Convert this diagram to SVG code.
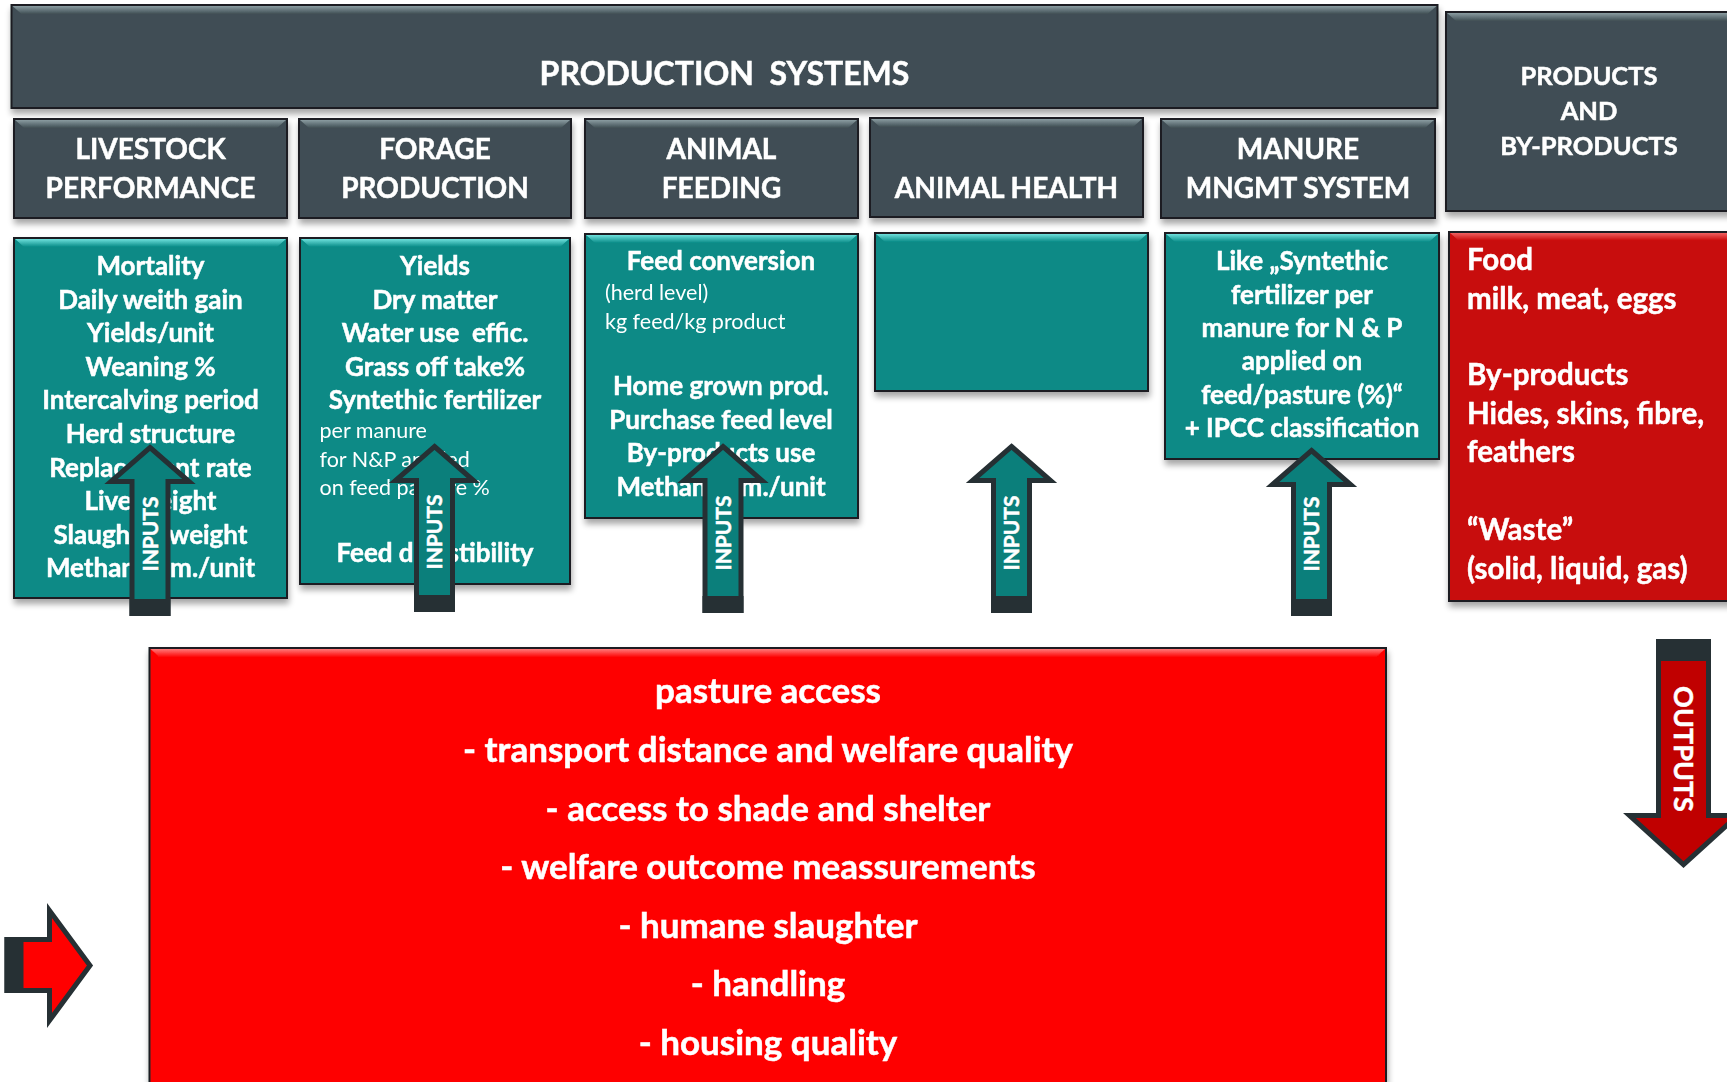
<svg xmlns="http://www.w3.org/2000/svg" width="1727" height="1082" viewBox="0 0 1727 1082">
<defs>
<style>
.t{font-family:Lato,"Liberation Sans",sans-serif;fill:#fff;font-weight:700;stroke:#fff;stroke-width:0.5}
.r{font-family:Lato,"Liberation Sans",sans-serif;fill:#fff;font-weight:400}
.c{text-anchor:middle}
.hd{font-size:28px}
.tt{font-size:32px}
.bx{font-size:26px}
.sm{font-size:21.5px}
.pr{font-size:29.5px}
.big{font-size:35px}
.ph{font-size:25.5px}
.arr{font-size:21px}
.slate{fill:#404e54;stroke:#1b1f21;stroke-width:2}
.teal{fill:#078a86;stroke:#1b1f21;stroke-width:2}
.red{fill:#fe0606;stroke:#1b1f21;stroke-width:2}
.dred{fill:#c80707;stroke:#1b1f21;stroke-width:2}
.bvS{fill:url(#gS)}
.bvT{fill:url(#gT)}
.bvR{fill:url(#gR)}
.bvD{fill:url(#gD)}
.ain{fill:#0b7f7b;stroke:#263034;stroke-width:5;stroke-linejoin:miter}
.aout{fill:#c00000;stroke:#263034;stroke-width:5;stroke-linejoin:miter}
.ared{fill:#ff0000;stroke:#263034;stroke-width:5;stroke-linejoin:miter}
.cap{fill:#263034}
</style>
<linearGradient id="gS" x1="0" y1="0" x2="0" y2="1"><stop offset="0" stop-color="#8a9ca1"/><stop offset="1" stop-color="#404e54"/></linearGradient>
<linearGradient id="gT" x1="0" y1="0" x2="0" y2="1"><stop offset="0" stop-color="#6fe0dc"/><stop offset="1" stop-color="#078a86"/></linearGradient>
<linearGradient id="gR" x1="0" y1="0" x2="0" y2="1"><stop offset="0" stop-color="#ff7a7a"/><stop offset="1" stop-color="#fe0606"/></linearGradient>
<linearGradient id="gD" x1="0" y1="0" x2="0" y2="1"><stop offset="0" stop-color="#f06060"/><stop offset="1" stop-color="#c80707"/></linearGradient>
<filter id="sh" x="-5%" y="-5%" width="110%" height="120%">
<feGaussianBlur in="SourceAlpha" stdDeviation="3"/>
<feOffset dx="1" dy="5" result="b"/>
<feComponentTransfer><feFuncA type="linear" slope="0.35"/></feComponentTransfer>
<feMerge><feMergeNode/><feMergeNode in="SourceGraphic"/></feMerge>
</filter>
</defs>
<rect width="1727" height="1082" fill="#fff"/>

<g id="production-systems" filter="url(#sh)">
<rect class="slate" x="11.5" y="5" width="1426" height="103"/>
<polygon class="bvS" points="12.5,6 1436.5,6 1427.5,14 21.5,14"/>
<text class="t tt c" x="724.5" y="85">PRODUCTION&#160; SYSTEMS</text>
</g>

<g id="livestock-performance" filter="url(#sh)">
<rect class="slate" x="14" y="119" width="273" height="99"/>
<polygon class="bvS" points="15,120 286,120 277,128 24,128"/>
<text class="t hd c" x="150.5" y="159">LIVESTOCK</text>
<text class="t hd c" x="150.5" y="198">PERFORMANCE</text>
</g>
<g id="forage-production" filter="url(#sh)">
<rect class="slate" x="299" y="119" width="272" height="99"/>
<polygon class="bvS" points="300,120 570,120 561,128 309,128"/>
<text class="t hd c" x="435" y="159">FORAGE</text>
<text class="t hd c" x="435" y="198">PRODUCTION</text>
</g>
<g id="animal-feeding" filter="url(#sh)">
<rect class="slate" x="585" y="119" width="273" height="99"/>
<polygon class="bvS" points="586,120 857,120 848,128 595,128"/>
<text class="t hd c" x="721.5" y="159">ANIMAL</text>
<text class="t hd c" x="721.5" y="198">FEEDING</text>
</g>
<g id="animal-health" filter="url(#sh)">
<rect class="slate" x="870" y="118" width="273" height="99"/>
<polygon class="bvS" points="871,119 1142,119 1133,127 880,127"/>
<text class="t hd c" x="1006.5" y="198">ANIMAL HEALTH</text>
</g>
<g id="manure-mngmt" filter="url(#sh)">
<rect class="slate" x="1161" y="119" width="274" height="99"/>
<polygon class="bvS" points="1162,120 1434,120 1425,128 1171,128"/>
<text class="t hd c" x="1298" y="159">MANURE</text>
<text class="t hd c" x="1298" y="198">MNGMT SYSTEM</text>
</g>
<g id="products-header" filter="url(#sh)">
<rect class="slate" x="1446" y="12" width="300" height="199"/>
<polygon class="bvS" points="1447,13 1745,13 1745,21 1456,21"/>
<text class="t ph c" x="1589" y="85">PRODUCTS</text>
<text class="t ph c" x="1589" y="120">AND</text>
<text class="t ph c" x="1589" y="155">BY-PRODUCTS</text>
</g>

<g id="livestock-inputs" filter="url(#sh)">
<rect class="teal" x="14" y="238" width="273" height="360"/>
<polygon class="bvT" points="15,239 286,239 277,247 24,247"/>
<text class="t bx c" x="150.5" y="275">Mortality</text>
<text class="t bx c" x="150.5" y="308.5">Daily weith gain</text>
<text class="t bx c" x="150.5" y="342">Yields/unit</text>
<text class="t bx c" x="150.5" y="375.5">Weaning %</text>
<text class="t bx c" x="150.5" y="409">Intercalving period</text>
<text class="t bx c" x="150.5" y="443">Herd structure</text>
<text class="t bx c" x="150.5" y="476.5">Replacement rate</text>
<text class="t bx c" x="150.5" y="510">Live weight</text>
<text class="t bx c" x="150.5" y="543.5">Slaughter weight</text>
<text class="t bx c" x="150.5" y="577">Methane em./unit</text>
</g>
<g id="forage-inputs" filter="url(#sh)">
<rect class="teal" x="300" y="238" width="270" height="346"/>
<polygon class="bvT" points="301,239 569,239 560,247 310,247"/>
<text class="t bx c" x="435" y="275">Yields</text>
<text class="t bx c" x="435" y="308.5">Dry matter</text>
<text class="t bx c" x="435" y="342">Water use&#160; effic.</text>
<text class="t bx c" x="435" y="375.5">Grass off take%</text>
<text class="t bx c" x="435" y="409">Syntethic fertilizer</text>
<text class="r sm" x="319.5" y="438">per manure</text>
<text class="r sm" x="319.5" y="467">for N&amp;P applied</text>
<text class="r sm" x="319.5" y="495">on feed pasture %</text>
<text class="t bx c" x="435" y="562">Feed digestibility</text>
</g>
<g id="feeding-inputs" filter="url(#sh)">
<rect class="teal" x="585" y="234" width="273" height="284"/>
<polygon class="bvT" points="586,235 857,235 848,243 595,243"/>
<text class="t bx c" x="721" y="270">Feed conversion</text>
<text class="r sm" x="605" y="300">(herd level)</text>
<text class="r sm" x="605" y="329">kg feed/kg product</text>
<text class="t bx c" x="721" y="395">Home grown prod.</text>
<text class="t bx c" x="721" y="428.5">Purchase feed level</text>
<text class="t bx c" x="721" y="462">By-products use</text>
<text class="t bx c" x="721" y="495.5">Methane em./unit</text>
</g>
<g id="health-inputs" filter="url(#sh)">
<rect class="teal" x="875" y="233" width="273" height="158"/>
<polygon class="bvT" points="876,234 1147,234 1138,242 885,242"/>
</g>
<g id="manure-inputs" filter="url(#sh)">
<rect class="teal" x="1165" y="233" width="274" height="226"/>
<polygon class="bvT" points="1166,234 1438,234 1429,242 1175,242"/>
<text class="t bx c" x="1302" y="270">Like „Syntethic</text>
<text class="t bx c" x="1302" y="303.5">fertilizer per</text>
<text class="t bx c" x="1302" y="337">manure for N &amp; P</text>
<text class="t bx c" x="1302" y="370">applied on</text>
<text class="t bx c" x="1302" y="403.5">feed/pasture (%)“</text>
<text class="t bx c" x="1302" y="437">+ IPCC classification</text>
</g>
<g id="products-list" filter="url(#sh)">
<rect class="dred" x="1449" y="232" width="300" height="369"/>
<polygon class="bvD" points="1450,233 1748,233 1748,241 1459,241"/>
<text class="t pr" x="1467" y="270">Food</text>
<text class="t pr" x="1467" y="308.5">milk, meat, eggs</text>
<text class="t pr" x="1467" y="385">By-products</text>
<text class="t pr" x="1467" y="423.5">Hides, skins, fibre,</text>
<text class="t pr" x="1467" y="462">feathers</text>
<text class="t pr" x="1467" y="540">“Waste”</text>
<text class="t pr" x="1467" y="578.5">(solid, liquid, gas)</text>
</g>
<g id="welfare" filter="url(#sh)">
<rect class="red" x="149.5" y="648" width="1236.5" height="450"/>
<polygon class="bvR" points="150.5,649 1385,649 1376,657 159.5,657"/>
<text class="t big c" x="768" y="703">pasture access</text>
<text class="t big c" x="768" y="762">- transport distance and welfare quality</text>
<text class="t big c" x="768" y="820.5">- access to shade and shelter</text>
<text class="t big c" x="768" y="879">- welfare outcome meassurements</text>
<text class="t big c" x="768" y="937.5">- humane slaughter</text>
<text class="t big c" x="768" y="996">- handling</text>
<text class="t big c" x="768" y="1055">- housing quality</text>
</g>

<g id="connectors">
<g id="in1">
<path class="ain" d="M150,447.5 L189,481.5 L168,481.5 L168,613.5 L132,613.5 L132,481.5 L111,481.5 Z"/>
<rect class="cap" x="129.5" y="599" width="41" height="17"/>
<text class="t arr c" transform="translate(150,534) rotate(-90)" y="7.5">INPUTS</text>
</g>
<g id="in2">
<path class="ain" d="M434.5,446.5 L473.5,480.5 L452.5,480.5 L452.5,609.5 L416.5,609.5 L416.5,480.5 L395.5,480.5 Z"/>
<rect class="cap" x="414" y="595" width="41" height="17"/>
<text class="t arr c" transform="translate(434.5,532) rotate(-90)" y="7.5">INPUTS</text>
</g>
<g id="in3">
<path class="ain" d="M723,446.5 L762,480.5 L741,480.5 L741,610.5 L705,610.5 L705,480.5 L684,480.5 Z"/>
<rect class="cap" x="702.5" y="596" width="41" height="17"/>
<text class="t arr c" transform="translate(723,533) rotate(-90)" y="7.5">INPUTS</text>
</g>
<g id="in4">
<path class="ain" d="M1011.5,446.5 L1050.5,480.5 L1029.5,480.5 L1029.5,610.5 L993.5,610.5 L993.5,480.5 L972.5,480.5 Z"/>
<rect class="cap" x="991" y="596" width="41" height="17"/>
<text class="t arr c" transform="translate(1011.5,533) rotate(-90)" y="7.5">INPUTS</text>
</g>
<g id="in5">
<path class="ain" d="M1311.5,450.5 L1350.5,484.5 L1329.5,484.5 L1329.5,613.5 L1293.5,613.5 L1293.5,484.5 L1272.5,484.5 Z"/>
<rect class="cap" x="1291" y="599" width="41" height="17"/>
<text class="t arr c" transform="translate(1311.5,534) rotate(-90)" y="7.5">INPUTS</text>
</g>
<g id="out">
<path class="aout" d="M1658.5,641.5 L1708.5,641.5 L1708.5,815.5 L1737.5,815.5 L1683.5,864.5 L1629.5,815.5 L1658.5,815.5 Z"/>
<rect class="cap" x="1656" y="639" width="55" height="22"/>
<text class="t c" style="font-size:27px" transform="translate(1683.5,749) rotate(90)" y="10">OUTPUTS</text>
</g>
<g id="welfare-in">
<path class="ared" d="M7,939.5 L49.5,939.5 L49.5,910.5 L90,965.5 L49.5,1020.5 L49.5,990.5 L7,990.5 Z"/>
<rect class="cap" x="4.5" y="937" width="19" height="56"/>
</g>
</g>
</svg>
